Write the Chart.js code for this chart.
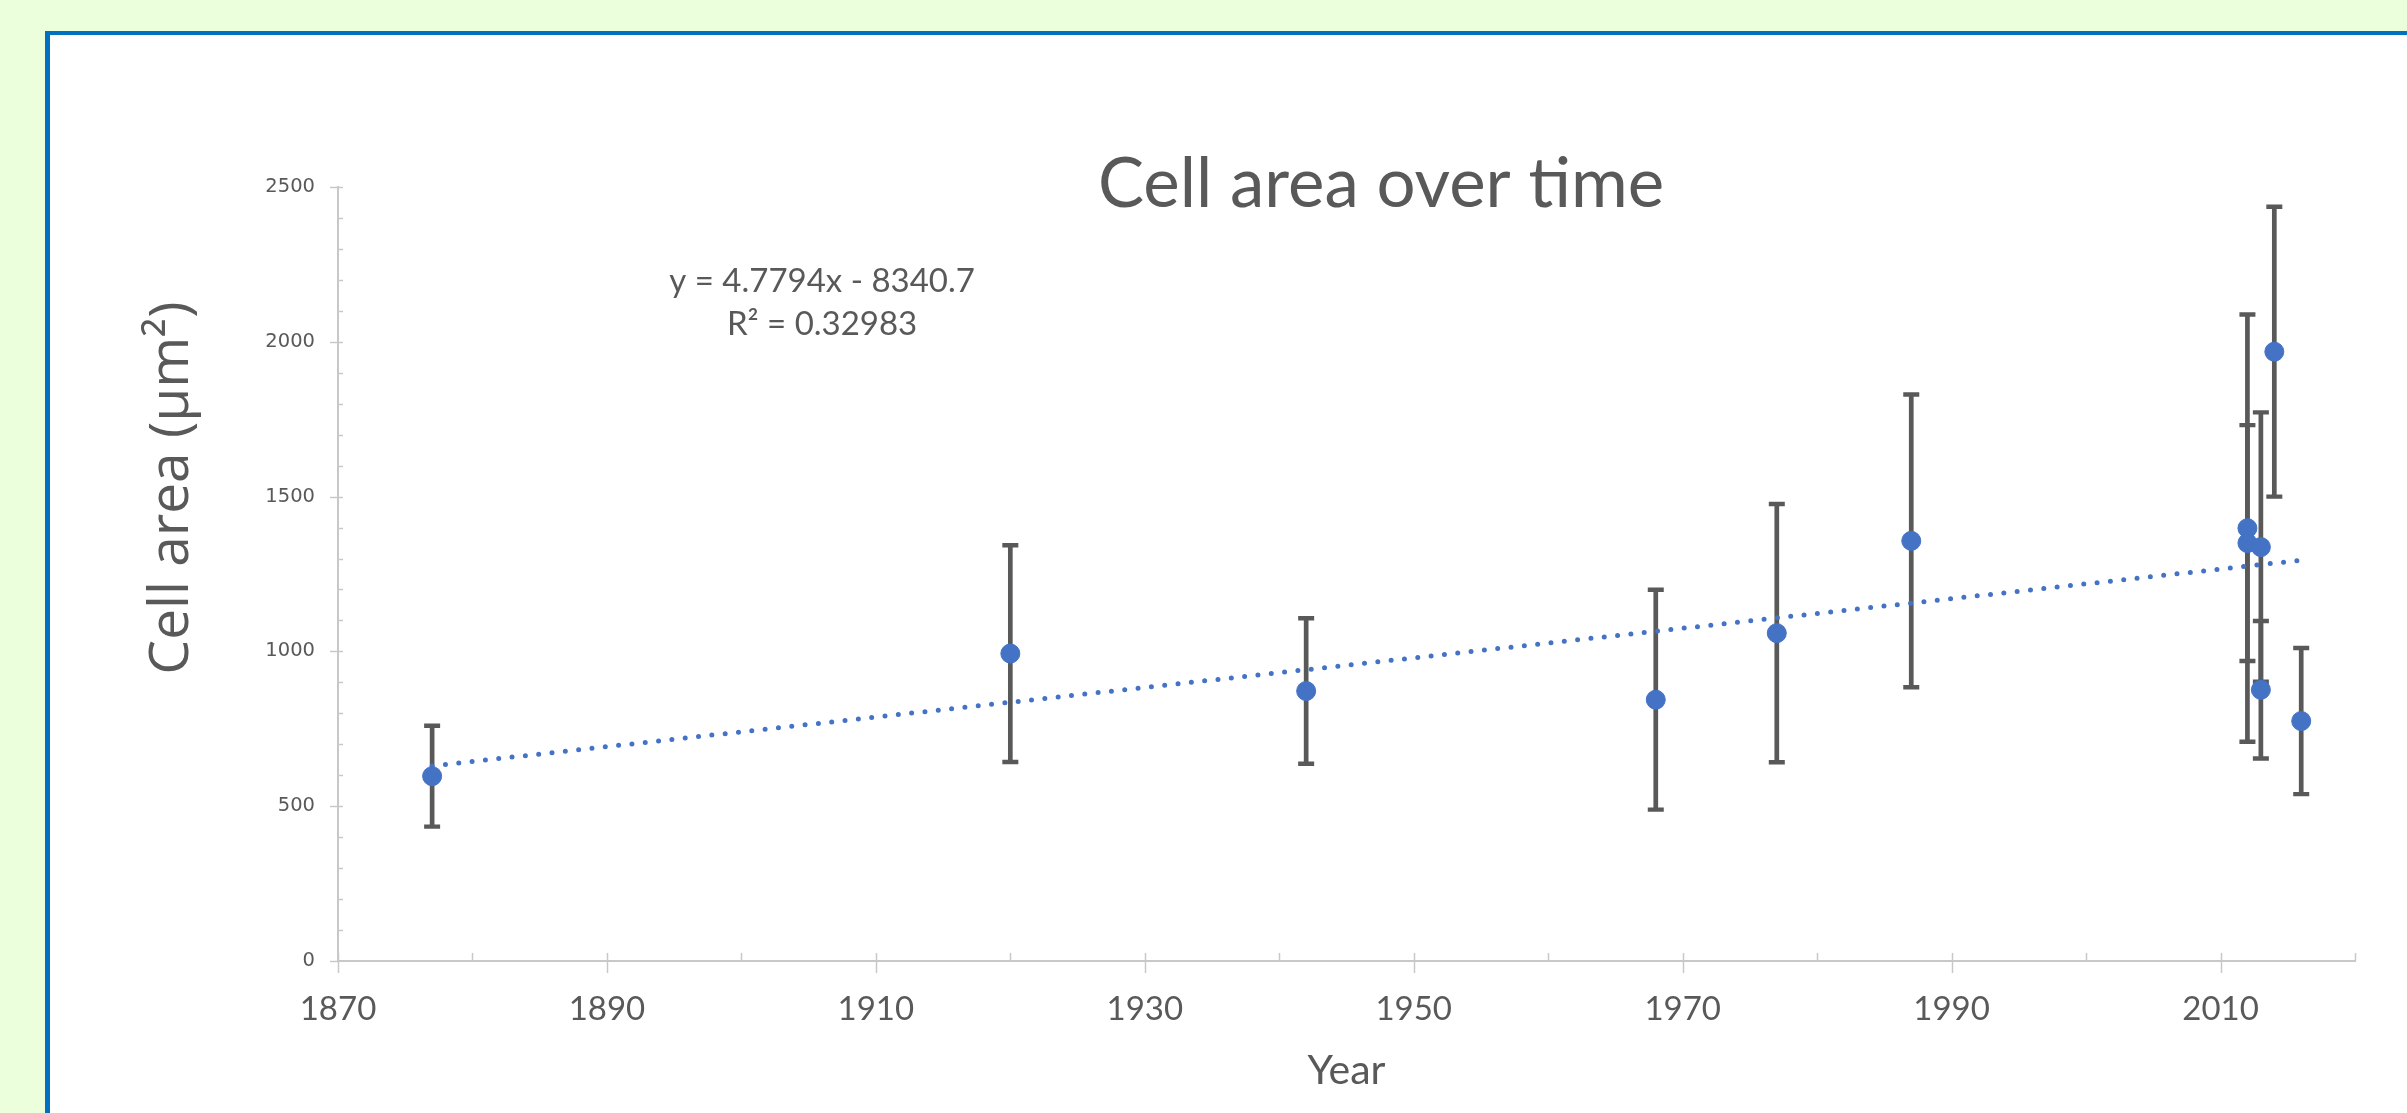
<!DOCTYPE html>
<html>
<head>
<meta charset="utf-8">
<script src="https://cdn.jsdelivr.net/npm/chart.js@4.4.1/dist/chart.umd.min.js"></script>
<style>
  html, body { margin: 0; padding: 0; width: 2407px; height: 1113px; overflow: hidden; background: #EBFFDC; }
  #box { position: absolute; left: 45px; top: 31px; width: 2600px; height: 1200px; background: #ffffff;
         border-left: 5px solid #0070C0; border-top: 4px solid #0070C0; }
  #wrap { position: absolute; left: 0; top: 0; width: 2762px; height: 1113px; }
</style>
</head>
<body>
<div id="box"></div>
<div id="wrap"><canvas id="c" width="2762" height="1113"></canvas></div>
<script>
// ---------- data ----------
const years  = [1877, 1920, 1942, 1968, 1977, 1987, 2012, 2012, 2013, 2013, 2014, 2016];
const area   = [597, 993, 872, 844, 1059, 1357, 1398, 1350, 1337, 876, 1968, 775];
const errBar = [163, 350, 235, 355, 417, 473, 690, 381, 435, 222, 468, 236];

const trendYears  = [1877, 2016];
const trendValues = [630.2, 1294.6];

const xTickLabels = ['1870', '1890', '1910', '1930', '1950', '1970', '1990', '2010'];
const yTickLabels = ['0', '500', '1000', '1500', '2000', '2500'];

const titleText = 'Cell area over time';
const xTitleText = 'Year';
const yTitleText = 'Cell area (µm²)';
const equationLines = ['y = 4.7794x - 8340.7', 'R² = 0.32983'];
const equationAnchor = [1906, 2162];   // year, value of first line baseline

// ---------- styles ----------
const TEXT = '#595959';
const AXIS = '#C8C8C8';
const BLUE = '#4472C4';
const ERR  = '#595959';

const decor = {
  id: 'decor',
  beforeDatasetsDraw(chart) {
    const ctx = chart.ctx, xs = chart.scales.x, ys = chart.scales.y;
    const ax = chart.chartArea.left, ay = chart.chartArea.bottom;
    ctx.save();
    ctx.strokeStyle = AXIS;
    ctx.lineWidth = 1.5;
    ctx.lineCap = 'butt';
    // x ticks
    xs.ticks.forEach(t => {
      const px = Math.round(xs.getPixelForValue(t.value)) + 0.5;
      const major = xTickLabels.includes(String(t.value));
      ctx.beginPath();
      ctx.moveTo(px, ay - 8);
      ctx.lineTo(px, ay + (major ? 12 : 0));
      ctx.stroke();
    });
    // y ticks
    ys.ticks.forEach(t => {
      const py = Math.round(ys.getPixelForValue(t.value)) + 0.5;
      const major = yTickLabels.includes(String(t.value));
      ctx.beginPath();
      ctx.moveTo(ax - (major ? 8 : 0), py);
      ctx.lineTo(ax + (t.value === 0 ? 0 : 5), py);
      ctx.stroke();
    });
    // error bars
    ctx.strokeStyle = ERR;
    years.forEach((yr, i) => {
      const px = xs.getPixelForValue(yr);
      const pTop = ys.getPixelForValue(area[i] + errBar[i]);
      const pBot = ys.getPixelForValue(area[i] - errBar[i]);
      ctx.lineWidth = 4.7;
      ctx.beginPath();
      ctx.moveTo(px, pTop);
      ctx.lineTo(px, pBot);
      ctx.stroke();
      ctx.lineWidth = 4.4;
      ctx.beginPath();
      ctx.moveTo(px - 8, pTop); ctx.lineTo(px + 8, pTop);
      ctx.moveTo(px - 8, pBot); ctx.lineTo(px + 8, pBot);
      ctx.stroke();
    });
    ctx.restore();
  },
  afterDraw(chart) {
    const ctx = chart.ctx, xs = chart.scales.x, ys = chart.scales.y;
    ctx.save();
    ctx.fillStyle = TEXT;
    // trendline equation
    ctx.font = '33px Lato';
    ctx.textAlign = 'center';
    ctx.textBaseline = 'alphabetic';
    const ex = xs.getPixelForValue(equationAnchor[0]);
    const ey = ys.getPixelForValue(equationAnchor[1]);
    equationLines.forEach((s, i) => ctx.fillText(s, ex, ey + i * 43.3));
    // y axis title
    ctx.font = '55px "Open Sans"';
    ctx.translate(chart.chartArea.left - 150, chart.chartArea.top + 301);
    ctx.rotate(-Math.PI / 2);
    ctx.textAlign = 'center';
    ctx.fillText(yTitleText, 0, 0);
    ctx.restore();
  }
};

function build() {
  new Chart(document.getElementById('c'), {
    type: 'scatter',
    data: {
      datasets: [
        {
          label: 'trend',
          type: 'line',
          data: trendYears.map((x, i) => ({ x, y: trendValues[i] })),
          borderColor: BLUE,
          borderWidth: 5,
          borderDash: [0, 13.4],
          borderCapStyle: 'round',
          pointRadius: 0,
          fill: false,
          tension: 0,
          order: 0
        },
        {
          label: 'Cell area',
          data: years.map((x, i) => ({ x, y: area[i] })),
          backgroundColor: BLUE,
          borderColor: BLUE,
          pointRadius: 9.5,
          pointBorderWidth: 1,
          order: 1
        }
      ]
    },
    options: {
      responsive: false,
      devicePixelRatio: 1,
      animation: false,
      events: [],
      layout: { padding: 0 },
      plugins: {
        legend: { display: false },
        tooltip: { enabled: false },
        title: {
          display: true,
          text: titleText,
          color: TEXT,
          font: { family: 'Lato', size: 69, weight: 'normal', lineHeight: 1 },
          padding: { top: 150, bottom: -32 }
        }
      },
      scales: {
        x: {
          type: 'linear',
          position: 'bottom',
          min: 1870, max: 2020,
          afterFit(s) { s.height = 152; },
          ticks: {
            stepSize: 10,
            autoSkip: false,
            maxRotation: 0,
            padding: 29,
            color: TEXT,
            font: { family: 'Lato', size: 33, lineHeight: 1.2 },
            callback: v => xTickLabels.includes(String(v)) ? String(v) : ''
          },
          grid: { display: false, drawTicks: false },
          border: { display: true, color: AXIS, width: 2 },
          title: {
            display: true,
            text: xTitleText,
            color: TEXT,
            font: { family: 'Lato', size: 41, lineHeight: 1.2 },
            padding: { top: 0, bottom: 17.7 }
          }
        },
        y: {
          type: 'linear',
          position: 'left',
          min: 0, max: 2500,
          afterFit(s) { s.width = 338; },
          ticks: {
            stepSize: 100,
            autoSkip: false,
            padding: 23,
            color: TEXT,
            font: { family: 'DejaVu Sans', size: 19.5 },
            callback: v => yTickLabels.includes(String(v)) ? String(v) : ''
          },
          grid: { display: false, drawTicks: false },
          border: { display: true, color: AXIS, width: 2 }
        },
        y2: {
          type: 'linear',
          position: 'right',
          display: true,
          afterFit(s) { s.width = 407; },
          ticks: { display: false },
          grid: { display: false, drawTicks: false },
          border: { display: false }
        }
      }
    },
    plugins: [decor]
  });
}

Promise.all([
  document.fonts.load('69px Lato'),
  document.fonts.load('55px "Open Sans"'),
  document.fonts.load('20px "DejaVu Sans"')
]).then(build, build);
</script>
</body>
</html>
